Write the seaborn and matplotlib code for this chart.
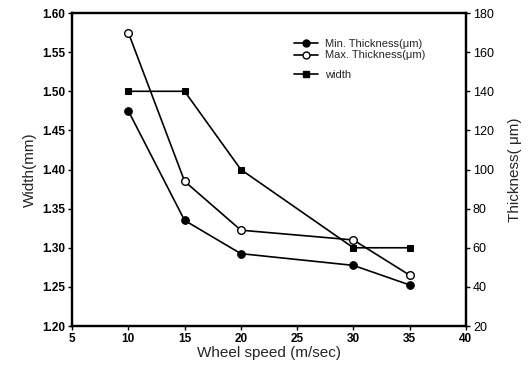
import matplotlib
matplotlib.use("Agg")
import matplotlib.pyplot as plt
import seaborn as sns
import pandas as pd
from matplotlib.lines import Line2D

speed = [10, 15, 20, 30, 35]
min_thickness = [130, 74, 57, 51, 41]
max_thickness = [170, 94, 69, 64, 46]
width = [1.50, 1.50, 1.40, 1.30, 1.30]

x_ticks = [5, 10, 15, 20, 25, 30, 35, 40]
w_ticks = [1.20, 1.25, 1.30, 1.35, 1.40, 1.45, 1.50, 1.55, 1.60]
t_ticks = [20, 40, 60, 80, 100, 120, 140, 160, 180]

sns.set_theme(style="ticks")
plt.rcParams['font.family'] = ['Liberation Sans', 'DejaVu Sans']

df = pd.DataFrame({"speed": speed, "min": min_thickness,
                   "max": max_thickness, "width": width})

fig = plt.figure(figsize=(5.3, 3.84), dpi=100)
ax = fig.add_axes([0.136, 0.151, 0.743, 0.815])
ax2 = ax.twinx()

sns.lineplot(data=df, x="speed", y="width", ax=ax, color="black",
             marker="s", markersize=5, linewidth=1.2, markeredgecolor="black")
sns.lineplot(data=df, x="speed", y="min", ax=ax2, color="black",
             marker="o", markersize=5.5, linewidth=1.2, markeredgecolor="black")
sns.lineplot(data=df, x="speed", y="max", ax=ax2, color="black",
             marker="o", markersize=5.5, linewidth=1.2, markerfacecolor="white",
             markeredgecolor="black", markeredgewidth=1)

ax.set_xlim(5, 40)
ax.set_ylim(1.20, 1.60)
ax2.set_ylim(20, 180)
ax.set_xticks(x_ticks)
ax.set_yticks(w_ticks)
ax2.set_yticks(t_ticks)
ax.set_xticklabels([str(v) for v in x_ticks], fontsize=8.5, fontweight="bold")
ax.set_yticklabels([f"{v:.2f}" for v in w_ticks], fontsize=8.5, fontweight="bold")
ax2.set_yticklabels([str(v) for v in t_ticks], fontsize=9)

ax.set_xlabel("Wheel speed (m/sec)", fontsize=11, labelpad=1)
ax.set_ylabel("Width(mm)", fontsize=11, labelpad=4)
ax2.set_ylabel("Thickness( μm)", fontsize=11, labelpad=10)

for a in (ax, ax2):
    for s in a.spines.values():
        s.set_linewidth(1.6)
        s.set_color("black")
    a.tick_params(direction="out", length=3, width=1, colors="black", pad=2)

h_min = Line2D([], [], color="black", marker="o", markersize=5, linewidth=1.2)
h_max = Line2D([], [], color="black", marker="o", markersize=5, linewidth=1.2,
               markerfacecolor="white")
h_w = Line2D([], [], color="black", marker="s", markersize=4.5, linewidth=1.2)

leg1 = ax2.legend([h_min, h_max], ["Min. Thickness(μm)", "Max. Thickness(μm)"],
                  loc="upper left", bbox_to_anchor=(0.535, 0.925),
                  bbox_transform=fig.transFigure, frameon=False, fontsize=8,
                  handlelength=2.2, handletextpad=0.6, labelspacing=0.15)
ax2.add_artist(leg1)
ax2.legend([h_w], ["width"], loc="upper left", bbox_to_anchor=(0.535, 0.845),
           bbox_transform=fig.transFigure, frameon=False, fontsize=8,
           handlelength=2.2, handletextpad=0.6)

fig.savefig("out.png", dpi=100)
